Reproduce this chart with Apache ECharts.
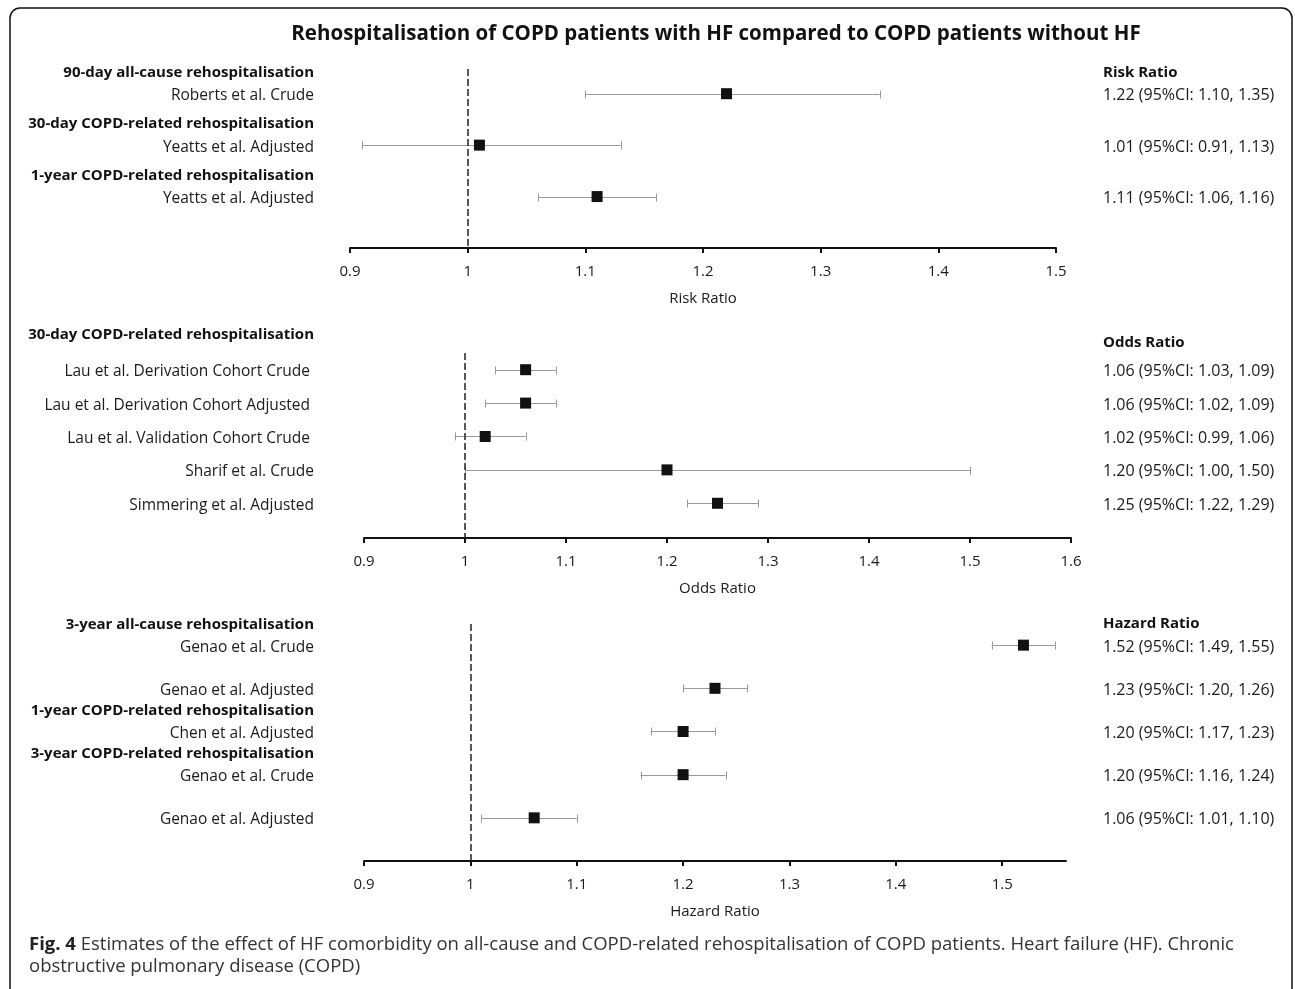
<!DOCTYPE html>
<html><head><meta charset="utf-8">
<script src="https://cdn.jsdelivr.net/npm/echarts@6/dist/echarts.min.js"></script>
<style>html,body{margin:0;padding:0;background:#fff}#c{width:1295px;height:989px}</style>
</head><body><div id="c"></div>
<script>
// ---------- DATA ----------
// Panel 1: Risk Ratio
const rrLabels = ["Roberts et al. Crude", "Yeatts et al. Adjusted", "Yeatts et al. Adjusted"];
const rrEst = [1.22, 1.01, 1.11];
const rrLo  = [1.10, 0.91, 1.06];
const rrHi  = [1.35, 1.13, 1.16];
const rrGroups = ["90-day all-cause rehospitalisation", "30-day COPD-related rehospitalisation", "1-year COPD-related rehospitalisation"];
const rrGroupStart = [0, 1, 2];
const rrTicks = [0.9, 1, 1.1, 1.2, 1.3, 1.4, 1.5];

// Panel 2: Odds Ratio
const orLabels = ["Lau et al. Derivation Cohort Crude ", "Lau et al. Derivation Cohort Adjusted ", "Lau et al. Validation Cohort Crude ", "Sharif et al. Crude", "Simmering et al. Adjusted"];
const orEst = [1.06, 1.06, 1.02, 1.20, 1.25];
const orLo  = [1.03, 1.02, 0.99, 1.00, 1.22];
const orHi  = [1.09, 1.09, 1.06, 1.50, 1.29];
const orGroups = ["30-day COPD-related rehospitalisation"];
const orGroupStart = [0];
const orTicks = [0.9, 1, 1.1, 1.2, 1.3, 1.4, 1.5, 1.6];

// Panel 3: Hazard Ratio
const hrLabels = ["Genao et al. Crude", "Genao et al. Adjusted", "Chen et al. Adjusted", "Genao et al. Crude", "Genao et al. Adjusted"];
const hrEst = [1.52, 1.23, 1.20, 1.20, 1.06];
const hrLo  = [1.49, 1.20, 1.17, 1.16, 1.01];
const hrHi  = [1.55, 1.26, 1.23, 1.24, 1.10];
const hrGroups = ["3-year all-cause rehospitalisation", "1-year COPD-related rehospitalisation", "3-year COPD-related rehospitalisation"];
const hrGroupStart = [0, 2, 3];
const hrTicks = [0.9, 1, 1.1, 1.2, 1.3, 1.4, 1.5];

const titleText = "Rehospitalisation of COPD patients with HF compared to COPD patients without HF";
const captionBold = "Fig. 4";
const captionLine1 = " Estimates of the effect of HF comorbidity on all-cause and COPD-related rehospitalisation of COPD patients. Heart failure (HF). Chronic";
const captionLine2 = "obstructive pulmonary disease (COPD)";

// ---------- LAYOUT ----------
const FONT = "'Open Sans', sans-serif";
const LABEL_X = 314;
const RESULT_X = 1103;
const TEXT_DY = 2;
const panels = [
  { name: "Risk Ratio",   labels: rrLabels, est: rrEst, lo: rrLo, hi: rrHi, groups: rrGroups, gStart: rrGroupStart, ticks: rrTicks,
    grid: {left: 350, right: 239, top: 69, height: 179}, xMin: 0.9, xMax: 1.5, yMin: 0.52, yMax: 4.0, gOff: 0.45, rhOff: 0.45 },
  { name: "Odds Ratio",   labels: orLabels, est: orEst, lo: orLo, hi: orHi, groups: orGroups, gStart: orGroupStart, ticks: orTicks,
    grid: {left: 364, right: 224, top: 353, height: 185}, xMin: 0.9, xMax: 1.6, yMin: 0.5, yMax: 6.04, gOff: 1.1, rhOff: 0.86 },
  { name: "Hazard Ratio", labels: hrLabels, est: hrEst, lo: hrLo, hi: hrHi, groups: hrGroups, gStart: hrGroupStart, ticks: hrTicks,
    grid: {left: 364, right: 229, top: 624, height: 237}, xMin: 0.9, xMax: 1.56, yMin: 0.51, yMax: 6.0, gOff: 0.52, rhOff: 0.54 }
];

const fmt = v => v.toFixed(2);

const grids = [], xAxes = [], yAxes = [], series = [];
panels.forEach((p, i) => {
  grids.push(p.grid);
  xAxes.push({
    type: 'value', gridIndex: i, min: p.xMin, max: p.xMax, interval: 0.1,
    name: p.name, nameLocation: 'middle', nameGap: 43,
    nameTextStyle: { fontFamily: FONT, fontSize: 15, color: '#1a1a1a' },
    axisLine: { show: true, onZero: false, lineStyle: { color: '#111', width: 2 } },
    axisTick: { show: true, length: 5, lineStyle: { color: '#111', width: 2 }, customValues: p.ticks },
    axisLabel: { fontFamily: FONT, fontSize: 15, color: '#1a1a1a', margin: 16, customValues: p.ticks,
      formatter: v => String(+v.toFixed(2)) },
    splitLine: { show: false }
  });
  yAxes.push({ type: 'value', gridIndex: i, inverse: true, min: p.yMin, max: p.yMax, show: false });

  // error bars
  series.push({
    type: 'custom', xAxisIndex: i, yAxisIndex: i, z: 2,
    data: p.est.map((e, k) => [p.lo[k], p.hi[k], k + 1]),
    renderItem: (params, api) => {
      const y = api.value(2);
      const a = api.coord([api.value(0), y]);
      const b = api.coord([api.value(1), y]);
      const yy = Math.round(a[1]) + 0.5;
      const h = 4;
      const st = { stroke: '#999', lineWidth: 1 };
      return { type: 'group', children: [
        { type: 'line', shape: { x1: a[0], y1: yy, x2: b[0], y2: yy }, style: st },
        { type: 'line', shape: { x1: Math.round(a[0]) + 0.5, y1: yy - h, x2: Math.round(a[0]) + 0.5, y2: yy + h }, style: st },
        { type: 'line', shape: { x1: Math.round(b[0]) + 0.5, y1: yy - h, x2: Math.round(b[0]) + 0.5, y2: yy + h }, style: st }
      ]};
    }
  });
  // point estimates
  series.push({
    type: 'scatter', xAxisIndex: i, yAxisIndex: i, z: 3,
    symbol: 'rect', symbolSize: 11,
    itemStyle: { color: '#111', opacity: 1 },
    data: p.est.map((e, k) => [e, k + 1]),
    markLine: {
      silent: true, symbol: 'none', animation: false,
      label: { show: false },
      lineStyle: { color: '#222', type: [7, 3], width: 1.5 },
      data: [{ xAxis: 1 }]
    }
  });
  // left row labels + group headers, right results + header
  series.push({
    type: 'custom', xAxisIndex: i, yAxisIndex: i, z: 4, silent: true,
    data: p.est.map((e, k) => [e, k + 1]),
    renderItem: (params, api) => {
      const k = params.dataIndex;
      const y = api.coord([p.xMin, api.value(1)])[1] + TEXT_DY;
      const children = [
        { type: 'text', x: LABEL_X, y: y, style: { text: p.labels[k], align: 'right', verticalAlign: 'middle',
          fontFamily: FONT, fontSize: 15.5, fill: '#1a1a1a' } },
        { type: 'text', x: RESULT_X, y: y, style: { text: fmt(p.est[k]) + ' (95%CI: ' + fmt(p.lo[k]) + ', ' + fmt(p.hi[k]) + ')',
          align: 'left', verticalAlign: 'middle', fontFamily: FONT, fontSize: 16, fill: '#1a1a1a' } }
      ];
      const g = p.gStart.indexOf(k);
      if (g >= 0) {
        const gy = api.coord([p.xMin, api.value(1) - p.gOff])[1] + TEXT_DY;
        children.push({ type: 'text', x: LABEL_X, y: gy, style: { text: p.groups[g], align: 'right', verticalAlign: 'middle',
          fontFamily: FONT, fontSize: 15, fontWeight: 'bold', fill: '#111' } });
      }
      if (k === 0) {
        const hy = api.coord([p.xMin, api.value(1) - p.rhOff])[1] + TEXT_DY;
        children.push({ type: 'text', x: RESULT_X, y: hy, style: { text: p.name, align: 'left', verticalAlign: 'middle',
          fontFamily: FONT, fontSize: 15, fontWeight: 'bold', fill: '#111' } });
      }
      return { type: 'group', children };
    }
  });
});

const chart = echarts.init(document.getElementById('c'), null, { renderer: 'canvas' });
chart.setOption({
  animation: false,
  backgroundColor: '#fff',
  title: { text: titleText, left: 711, top: 19, textAlign: 'center',
    textStyle: { fontFamily: FONT, fontSize: 20.5, fontWeight: 'bold', color: '#111' } },
  grid: grids, xAxis: xAxes, yAxis: yAxes, series,
  graphic: [
    { type: 'rect', shape: { x: 10, y: 8, width: 1282, height: 992, r: 10 }, style: { fill: 'none', stroke: '#111', lineWidth: 1.5 }, silent: true },
    { type: 'text', left: 29, top: 934, style: { text: '{b|' + captionBold + '}' + captionLine1 + '\n' + captionLine2,
      fontFamily: FONT, fontSize: 18.5, fill: '#333', lineHeight: 22,
      rich: { b: { fontFamily: FONT, fontSize: 18.5, fontWeight: 'bold', fill: '#222' } } } }
  ]
});
</script>
</body></html>
